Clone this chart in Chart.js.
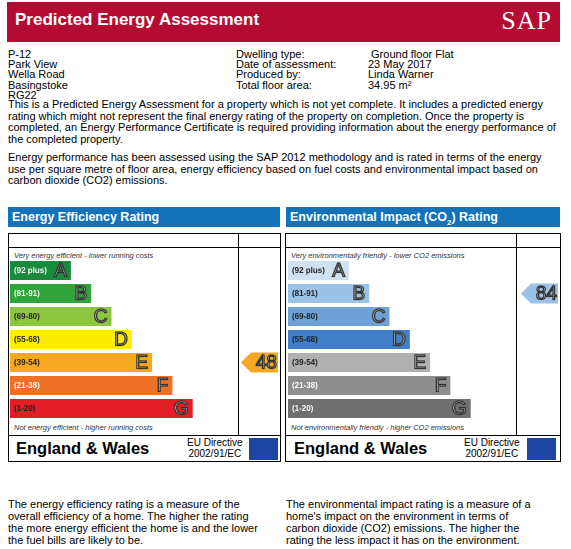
<!DOCTYPE html>
<html><head><meta charset="utf-8">
<script src="https://cdn.jsdelivr.net/npm/chart.js@4/dist/chart.umd.min.js"></script>
<style>
body{margin:0;width:571px;height:549px;background:#fff;font-family:"Liberation Sans",Arial,sans-serif;position:relative;overflow:hidden;color:#000}
.abs{position:absolute}
#hdr{left:7px;top:2px;width:553px;height:40px;background:#b50b32}
#hdr .t{left:8px;top:8px;color:#fff;font-weight:bold;font-size:17px}
#hdr .s{right:8px;top:4px;color:#fff;font-family:"Liberation Serif",serif;font-size:26px;letter-spacing:1px}
.info{font-size:11px;line-height:10.2px}
.p{font-size:11px;line-height:11.5px;left:8px}
.ph{height:20px;background:#1472b8;color:#fff;font-weight:bold;font-size:12.5px;line-height:20px;padding-left:4px;box-sizing:border-box}
.box{border:1px solid #000;box-sizing:border-box}
.ln{background:#000}
.it{font-size:7.5px;font-style:italic;color:#333}
.ew{font-weight:bold;font-size:16.5px}
.eu{font-size:10px;line-height:11px;text-align:center}
.flag{background:#1d45a3;width:29px;height:22px}
.ft{font-size:11px;line-height:12px}
</style></head><body>
<div id="hdr" class="abs"><div class="abs t">Predicted Energy Assessment</div><div class="abs s">SAP</div></div>
<div class="abs info" style="left:8px;top:49px">P-12<br>Park View<br>Wella Road<br>Basingstoke<br>RG22</div>
<div class="abs info" style="left:236px;top:49px">Dwelling type:<br>Date of assessment:<br>Produced by:<br>Total floor area:</div>
<div class="abs info" style="left:368px;top:49px">&nbsp;Ground floor Flat<br>23 May 2017<br>Linda Warner<br>34.95 m²</div>
<div class="abs p" style="top:99px;width:556px">This is a Predicted Energy Assessment for a property which is not yet complete. It includes a predicted energy rating which might not represent the final energy rating of the property on completion. Once the property is completed, an Energy Performance Certificate is required providing information about the energy performance of the completed property.</div>
<div class="abs p" style="top:152px;width:548px">Energy performance has been assessed using the SAP 2012 methodology and is rated in terms of the energy use per square metre of floor area, energy efficiency based on fuel costs and environmental impact based on carbon dioxide (CO2) emissions.</div>

<div class="abs ph" style="left:8px;top:207px;width:272px">Energy Efficiency Rating</div>
<div class="abs box" style="left:8px;top:233px;width:273px;height:229px"></div>
<div class="abs ln" style="left:8px;top:247px;width:273px;height:1px"></div>
<div class="abs ln" style="left:8px;top:435px;width:273px;height:1px"></div>
<div class="abs ln" style="left:238px;top:233px;width:1px;height:202px"></div>
<div class="abs it" style="left:14px;top:251px">Very energy efficient - lower running costs</div>
<div class="abs it" style="left:14px;top:423px">Not energy efficient - higher running costs</div>
<div class="abs ew" style="left:16px;top:439px">England &amp; Wales</div>
<div class="abs eu" style="left:187px;top:437px">EU Directive<br>2002/91/EC</div>
<div class="abs flag" style="left:249px;top:438px"></div>

<div class="abs ph" style="left:286px;top:207px;width:274px">Environmental Impact (CO<sub style="font-size:8px">2</sub>) Rating</div>
<div class="abs box" style="left:285px;top:233px;width:276px;height:229px"></div>
<div class="abs ln" style="left:285px;top:247px;width:276px;height:1px"></div>
<div class="abs ln" style="left:285px;top:435px;width:276px;height:1px"></div>
<div class="abs ln" style="left:516px;top:233px;width:1px;height:202px"></div>
<div class="abs it" style="left:291px;top:251px">Very environmentally friendly - lower CO2 emissions</div>
<div class="abs it" style="left:291px;top:423px">Not environmentally friendly - higher CO2 emissions</div>
<div class="abs ew" style="left:294px;top:439px">England &amp; Wales</div>
<div class="abs eu" style="left:464px;top:437px">EU Directive<br>2002/91/EC</div>
<div class="abs flag" style="left:527px;top:438px"></div>

<div class="abs ft" style="left:8px;top:498px;width:255px">The energy efficiency rating is a measure of the overall efficiency of a home. The higher the rating the more energy efficient the home is and the lower the fuel bills are likely to be.</div>
<div class="abs ft" style="left:286px;top:498px;width:250px">The environmental impact rating is a measure of a home's impact on the environment in terms of carbon dioxide (CO2) emissions. The higher the rating the less impact it has on the environment.</div>

<canvas id="c1" class="abs" style="left:10px;top:259px;width:268px;height:161px"></canvas>
<canvas id="c2" class="abs" style="left:288px;top:259px;width:270px;height:161px"></canvas>
<script>
const bands=["A","B","C","D","E","F","G"];
const ranges=["(92 plus)","(81-91)","(69-80)","(55-68)","(39-54)","(21-38)","(1-20)"];
const barLengths=[3,4,5,6,7,8,9];
const eeColors=["#1a8a3c","#2ea43a","#8cc63e","#ffed00","#f7a823","#ee7027","#e31d25"];
const eiColors=["#cfe2f3","#9cc2e5","#6fa1d8","#3f7fc8","#b0b0b0","#8e8e8e","#6f6f6f"];
const eeLabelColors=["#fff","#fff","#222","#222","#222","#fff","#222"];
const eiLabelColors=["#222","#222","#222","#222","#222","#fff","#fff"];
const eeRating=48, eeBand="E", eeArrowColor="#f7a823";
const eiRating=84, eiBand="B", eiArrowColor="#9cc2e5";

function make(id,colors,labelColors,rating,band,arrowColor,xMax){
  const plug={id:"lbl",afterDatasetsDraw(ch){
    const ctx=ch.ctx, meta=ch.getDatasetMeta(0);
    meta.data.forEach((b,i)=>{
      ctx.save();
      ctx.font="bold 8px 'Liberation Sans',Arial";ctx.fillStyle=labelColors[i];ctx.textBaseline="middle";
      ctx.fillText(ranges[i],b.base+4,b.y+0.5);
      ctx.font="19px 'Liberation Sans',Arial";ctx.textAlign="right";
      ctx.lineWidth=1.3;ctx.strokeStyle="#333";ctx.fillStyle="#fff";
      ctx.fillText(bands[i],b.x-4,b.y+1);ctx.strokeText(bands[i],b.x-4,b.y+1);
      ctx.restore();
    });
    const y=ch.scales.y.getPixelForValue(bands.indexOf(band));
    const r=ch.chartArea.right, l=r-37, hh=10;
    ctx.save();ctx.fillStyle=arrowColor;ctx.beginPath();
    ctx.moveTo(l,y);ctx.lineTo(l+10,y-hh);ctx.lineTo(r,y-hh);ctx.lineTo(r,y+hh);ctx.lineTo(l+10,y+hh);ctx.closePath();ctx.fill();
    ctx.font="19px 'Liberation Sans',Arial";ctx.textAlign="right";ctx.textBaseline="middle";
    ctx.lineWidth=1.3;ctx.strokeStyle="#333";ctx.fillStyle="#fff";
    ctx.fillText(String(rating),r-1,y+1);ctx.strokeText(String(rating),r-1,y+1);
    ctx.restore();
  }};
  new Chart(document.getElementById(id),{type:"bar",
    data:{labels:bands,datasets:[{data:barLengths,backgroundColor:colors,barPercentage:0.83,categoryPercentage:1}]},
    options:{indexAxis:"y",responsive:false,animation:false,devicePixelRatio:2,
      layout:{padding:0},
      plugins:{legend:{display:false},tooltip:{enabled:false}},
      scales:{x:{display:false,min:0,max:xMax},y:{display:false}}},
    plugins:[plug]});
}
function sizeCanvas(id,w,h){const c=document.getElementById(id);c.width=w;c.height=h;}
sizeCanvas("c1",268,161);sizeCanvas("c2",270,161);
make("c1",eeColors,eeLabelColors,eeRating,eeBand,eeArrowColor,268/20.3);
make("c2",eiColors,eiLabelColors,eiRating,eiBand,eiArrowColor,270/20.3);
</script>
</body></html>
